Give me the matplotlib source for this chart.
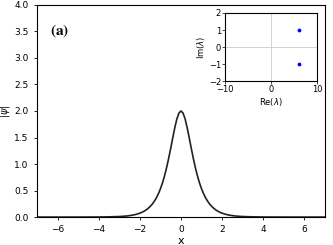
import matplotlib
matplotlib.use("Agg")
import matplotlib.pyplot as plt

# soliton profile |psi| (symmetric about x = 0)
x_half = [0.0, 0.1, 0.2, 0.3, 0.4, 0.5, 0.6, 0.7, 0.8, 0.9, 1.0,
          1.1, 1.2, 1.3, 1.4, 1.5, 1.6, 1.7, 1.8, 1.9, 2.0,
          2.2, 2.4, 2.6, 2.8, 3.0, 3.5, 4.0, 5.0, 6.0, 7.0]
psi_half = [2.000, 1.961, 1.850, 1.687, 1.495, 1.296, 1.105, 0.930, 0.776, 0.644, 0.532,
            0.438, 0.360, 0.296, 0.242, 0.199, 0.163, 0.133, 0.109, 0.089, 0.073,
            0.049, 0.033, 0.022, 0.015, 0.010, 0.004, 0.001, 0.000, 0.000, 0.000]

x = [-v for v in x_half[:0:-1]] + x_half
psi = psi_half[:0:-1] + psi_half

# eigenvalues in the spectral plane
re_lam = [6, 6]
im_lam = [1, -1]

fig = plt.figure(figsize=(3.33, 2.45), dpi=100)
ax = fig.add_axes([0.111, 0.114, 0.865, 0.866])
ax.plot(x, psi, color="#222222", lw=1.2)
ax.set_xlim(-7, 7)
ax.set_ylim(0, 4)
ax.set_xticks([-6, -4, -2, 0, 2, 4, 6])
ax.set_yticks([0, 0.5, 1, 1.5, 2, 2.5, 3, 3.5, 4])
ax.tick_params(labelsize=6.5, length=2.5, width=0.6)
ax.set_xlabel("x", fontsize=8, labelpad=1)
ax.set_ylabel(r"$|\psi|$", fontsize=7)
ax.yaxis.set_label_coords(-0.085, 0.5)
ax.text(0.045, 0.86, r"$\mathbf{(a)}$", transform=ax.transAxes, fontsize=11,
        math_fontfamily="stix")

ins = fig.add_axes([0.676, 0.669, 0.276, 0.278])
ins.axhline(0, color="#cccccc", lw=0.6)
ins.axvline(0, color="#cccccc", lw=0.6)
ins.scatter(re_lam, im_lam, color="blue", s=3, zorder=3)
ins.set_xlim(-10, 10)
ins.set_ylim(-2, 2)
ins.set_xticks([-10, 0, 10])
ins.set_yticks([-2, -1, 0, 1, 2])
ins.tick_params(labelsize=6, length=2, width=0.5, pad=1)
ins.set_xlabel(r"Re($\lambda$)", fontsize=6, labelpad=1)
ins.set_ylabel(r"Im($\lambda$)", fontsize=6, labelpad=1)

fig.savefig("out.png", dpi=100)
